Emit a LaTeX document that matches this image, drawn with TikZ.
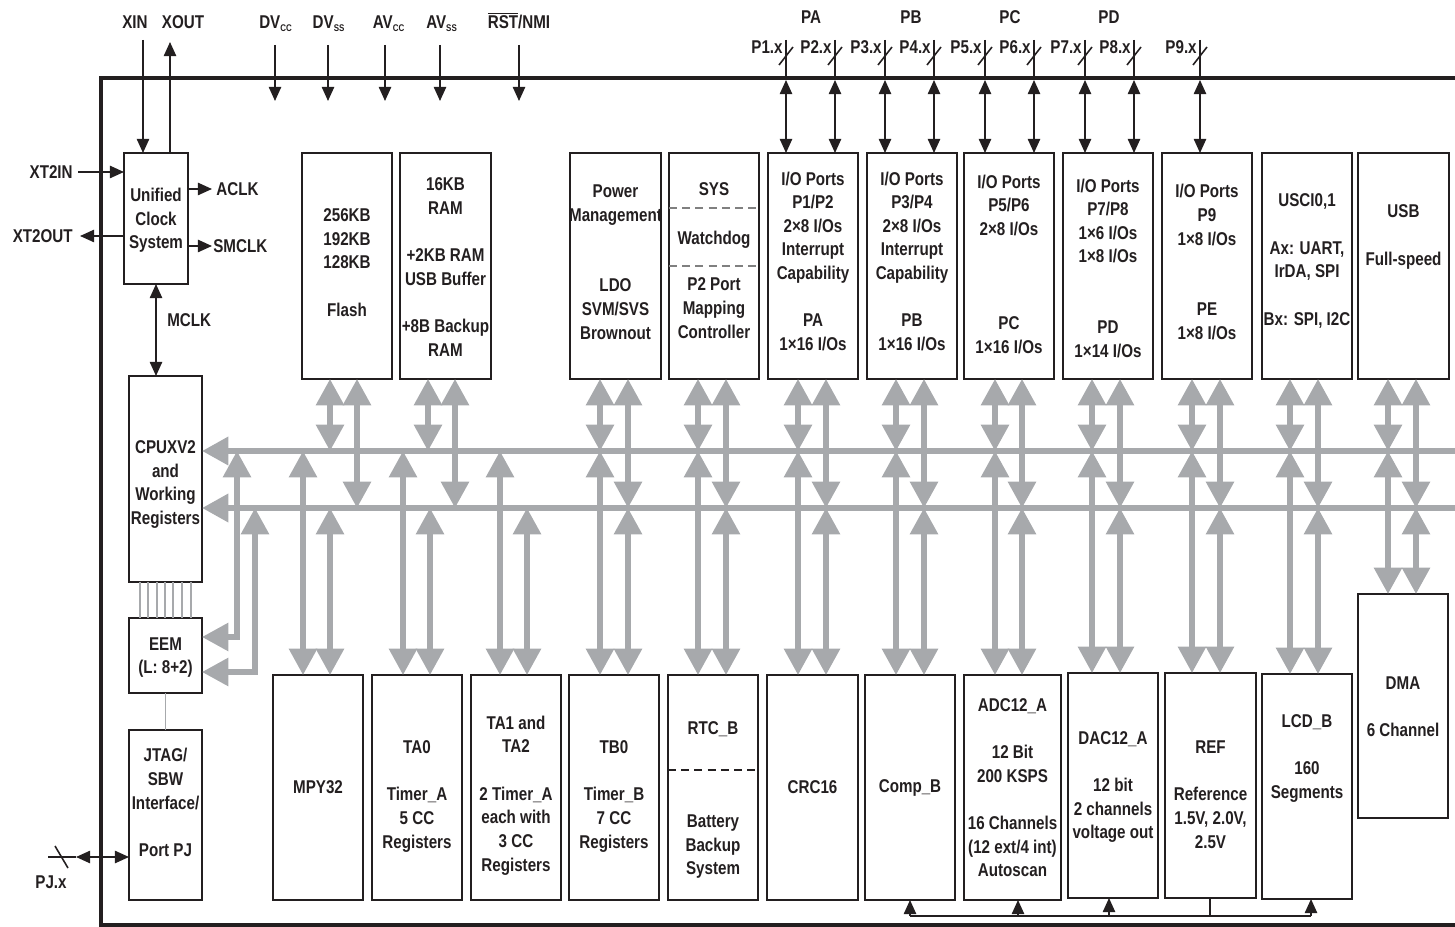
\documentclass[tikz,border=0pt]{standalone}
\usepackage{fontspec}
\setmainfont{Liberation Sans}[FakeStretch=0.82]
\usetikzlibrary{arrows.meta,calc}
\definecolor{busgray}{RGB}{167,169,172}
\definecolor{ink}{RGB}{35,31,32}
\newlength\gapL \setlength\gapL{13.4pt}
\def\PX{0.5674pt}
\newcommand\blk[5]{\node[blkbox, minimum width={(#4-#2)*\PX}, minimum height={(#5-#3)*\PX}] (#1) at ({(#2+#4)/2},{(#3+#5)/2}) {};}
\tikzset{
  BT/.tip={Triangle[length=15pt,width=15.5pt]},
  ST/.tip={Triangle[length=8pt,width=7pt]},
  blkbox/.style={draw=ink, line width=1.4pt, inner sep=0pt, outer sep=0pt, rectangle},
  txt/.style={align=center, inner sep=0pt, text depth=0pt, text=ink},
  lbl/.style={inner sep=0pt, text=ink},
  sig/.style={draw=ink, line width=0.9pt},
  bus/.style={draw=busgray, line width=3pt},
  busline/.style={draw=busgray, line width=3.4pt},
  frameln/.style={draw=ink, line width=2.3pt},
  thinln/.style={draw=busgray, line width=0.6pt},
  dashln/.style={dashed, dash pattern=on 4.5pt off 3pt, line width=0.9pt}
}
\begin{document}
\begin{tikzpicture}[x=0.5674pt, y=-0.5674pt, font=\bfseries\fontsize{10.5pt}{13.4pt}\selectfont]
\useasboundingbox (0,0) rectangle (1455,927);

% chip frame
\coordinate (frTR) at (1465,78); \coordinate (frTL) at (101,78);
\coordinate (frBL) at (101,925); \coordinate (frBR) at (1465,925);
\draw[frameln] (frTR) -- (frTL) -- (frBL) -- (frBR);

% blocks
\blk{clk}{124}{153}{188}{284}
\blk{cpu}{129}{376}{202}{582}
\blk{eem}{129}{618}{202}{693}
\blk{jtag}{129}{730}{202}{900}
\blk{flash}{302}{153}{392}{379}
\blk{ram}{400}{153}{491}{379}
\blk{pmm}{570}{153}{661}{379}
\blk{sys}{669}{153}{759}{379}
\blk{ioA}{768}{153}{858}{379}
\blk{ioB}{867}{153}{957}{379}
\blk{ioC}{964}{153}{1054}{379}
\blk{ioD}{1063}{153}{1153}{379}
\blk{ioE}{1162}{153}{1252}{379}
\blk{usci}{1262}{153}{1352}{379}
\blk{usb}{1358}{153}{1449}{379}
\blk{mpy}{273}{675}{363}{900}
\blk{ta0}{372}{675}{462}{900}
\blk{ta1}{471}{675}{561}{900}
\blk{tb0}{569}{675}{659}{900}
\blk{rtc}{668}{675}{758}{900}
\blk{crc}{767}{675}{858}{900}
\blk{comp}{865}{675}{955}{900}
\blk{adc}{964}{675}{1061}{900}
\blk{dac}{1068}{673}{1158}{898}
\blk{ref}{1165}{673}{1256}{898}
\blk{lcd}{1262}{674}{1352}{899}
\blk{dma}{1358}{594}{1448}{818}

% dashed separators
\draw[dashln, draw=gray] ($(sys.north west)+(0,55)$) -- ($(sys.north east)+(0,55)$);
\draw[dashln, draw=gray] ($(sys.north west)+(0,113)$) -- ($(sys.north east)+(0,113)$);
\draw[dashln, draw=ink] ($(rtc.north west)+(0,95)$) -- ($(rtc.north east)+(0,95)$);

% buses
\coordinate (busU) at (1465,451); \coordinate (busL) at (1465,508);
\draw[busline, BT-] (cpu.east |- busU) -- (busU);
\draw[busline, BT-] (cpu.east |- busL) -- (busL);

\foreach \b/\xa/\xb in {flash/330/357, ram/428/455, pmm/600/628, sys/698/726, ioA/798/826, ioB/896/924, ioC/995/1022, ioD/1092/1120, ioE/1192/1220, usci/1290/1318, usb/1388/1416} {
  \coordinate (ca) at (\xa,451); \coordinate (cb) at (\xb,508);
  \draw[bus, BT-BT] (ca |- \b.south) -- (ca);
  \draw[bus, BT-BT] (cb |- \b.south) -- (cb);
}
\foreach \b/\xa/\xb in {mpy/303/330, ta0/403/430, ta1/500/527, tb0/600/628, rtc/698/726, crc/798/826, comp/896/924, adc/995/1022, dac/1092/1120, ref/1192/1220, lcd/1290/1318, dma/1388/1416} {
  \coordinate (ca) at (\xa,451); \coordinate (cb) at (\xb,508);
  \draw[bus, BT-BT] (ca) -- (ca |- \b.north);
  \draw[bus, BT-BT] (cb) -- (cb |- \b.north);
}
% EEM links
\coordinate (eA) at (237,637); \coordinate (eB) at (255,672);
\draw[bus, BT-BT] (eA |- busU) -- (eA) -- (eem.east |- eA);
\draw[bus, BT-BT] (eB |- busL) -- (eB) -- (eem.east |- eB);

% CPU-EEM thin lines, EEM-JTAG
\foreach \d in {11,19,28,36,44,53,62} {
  \draw[thinln] ($(cpu.south west)+(\d,0)$) -- ($(eem.north west)+(\d,0)$);
}
\draw[thinln] (eem.south) -- (jtag.north);

% clock signals
\coordinate (xinT) at (143,40); \draw[sig,-ST] (xinT) -- (xinT |- clk.north);
\coordinate (xoutT) at (170,42); \draw[sig,-ST] (xoutT |- clk.north) -- (xoutT);
\coordinate (xt2in) at (78,172); \draw[sig,-ST] (xt2in) -- (xt2in -| clk.west);
\coordinate (xt2out) at (80,236); \draw[sig,-ST] (xt2out -| clk.west) -- (xt2out);
\coordinate (aclk) at (212,189); \draw[sig,-ST] (aclk -| clk.east) -- (aclk);
\coordinate (smclk) at (212,246); \draw[sig,-ST] (smclk -| clk.east) -- (smclk);
\draw[sig,ST-ST] (clk.south) -- (clk.south |- cpu.north);

\node[lbl] (lxin) at (135,22) {XIN};
\node[lbl] (lxout) at (183,22) {XOUT};
\node[lbl, anchor=east] (lxt2in) at (73,172) {XT2IN};
\node[lbl, anchor=east] (lxt2out) at (73,236) {XT2OUT};
\node[lbl, anchor=west] (laclk) at (216,189) {ACLK};
\node[lbl, anchor=west] (lsmclk) at (213,246) {SMCLK};
\node[lbl, anchor=west] (lmclk) at (167,320) {MCLK};

% power pins
\foreach \i/\x in {1/275,2/328,3/385,4/440,5/519} {
  \coordinate (pw\i) at (\x,45); \coordinate (pwe\i) at (\x,101);
  \draw[sig,-ST] (pw\i) -- (pwe\i);
}
\node[lbl, anchor=base] (ldvcc) at (276,29) {DV\textsubscript{\fontsize{5.5pt}{6pt}\selectfont CC}};
\node[lbl, anchor=base] (ldvss) at (329,29) {DV\textsubscript{\fontsize{5.5pt}{6pt}\selectfont SS}};
\node[lbl, anchor=base] (lavcc) at (389,29) {AV\textsubscript{\fontsize{5.5pt}{6pt}\selectfont CC}};
\node[lbl, anchor=base] (lavss) at (442,29) {AV\textsubscript{\fontsize{5.5pt}{6pt}\selectfont SS}};
\node[lbl, anchor=base] (lrst) at (519,29) {$\overline{\hbox{RST}}$/NMI};

% port pins
\foreach \i/\x/\b in {1/786/ioA,2/835/ioA,3/885/ioB,4/934/ioB,5/985/ioC,6/1034/ioC,7/1085/ioD,8/1134/ioD,9/1200/ioE} {
  \coordinate (pt\i) at (\x,40); \coordinate (pm\i) at (\x,80);
  \draw[sig] (pt\i) -- (pm\i);
  \draw[sig,ST-ST] (pm\i) -- (pm\i |- \b.north);
  \draw[sig] ($(pm\i)+(-7,-15)$) -- ($(pm\i)+(7,-33)$);
  \node[lbl, anchor=east] (pl\i) at ($(pt\i)+(-3,7)$) {P\i.x};
}
\node[lbl] (lpa) at (811,17) {PA};
\node[lbl] (lpb) at (911,17) {PB};
\node[lbl] (lpc) at (1010,17) {PC};
\node[lbl] (lpd) at (1109,17) {PD};

% PJ
\coordinate (pjx) at (48,857); \coordinate (pjm) at (76,857);
\draw[sig] (pjx) -- (pjm);
\draw[sig,ST-ST] (pjm) -- (pjm -| jtag.west);
\draw[sig] (55,846) -- (68,868);
\node[lbl] (lpj) at (51,882) {PJ.x};

% analog signal line
\coordinate (sgA) at (910,916); \coordinate (sgB) at (1018,916);
\coordinate (sgC) at (1109,916); \coordinate (sgD) at (1210,916);
\coordinate (sgE) at (1311,916);
\draw[sig] (sgA) -- (sgE);
\draw[sig,-ST] (sgA) -- (sgA |- comp.south);
\draw[sig,-ST] (sgB) -- (sgB |- adc.south);
\draw[sig,-ST] (sgC) -- (sgC |- dac.south);
\draw[sig] (sgD) -- (sgD |- ref.south);
\draw[sig,-ST] (sgE) -- (sgE |- lcd.south);

% block texts
\node[txt] (clkT) at (156,218.5) {Unified\\Clock\\System};
\node[txt] (cpuT) at (165.5,482.5) {CPUXV2\\and\\Working\\Registers};
\node[txt] (eemT) at (165.5,655.5) {EEM\\(L: 8+2)};
\node[txt] (jtagT) at (165.5,802.5) {JTAG/\\SBW\\Interface/\\[\gapL]Port PJ};
\node[txt] (flashT) at (347,262.5) {256KB\\192KB\\128KB\\[\gapL]Flash};
\node[txt] (ramT) at (445.5,267) {16KB\\RAM\\[\gapL]+2KB RAM\\USB Buffer\\[\gapL]+8B Backup\\RAM};
\node[txt] (pmmT) at (615.5,262) {Power\\Management\\[2\gapL]LDO\\SVM/SVS\\Brownout};
\node[txt] (sysA) at (714,189) {SYS};
\node[txt] (sysB) at (714,238) {Watchdog};
\node[txt] (sysC) at (714,308) {P2 Port\\Mapping\\Controller};
\node[txt] (ioAT) at (813,261) {I/O Ports\\P1/P2\\2×8 I/Os\\Interrupt\\Capability\\[\gapL]PA\\1×16 I/Os};
\node[txt] (ioBT) at (912,261) {I/O Ports\\P3/P4\\2×8 I/Os\\Interrupt\\Capability\\[\gapL]PB\\1×16 I/Os};
\node[txt] (ioCT) at (1009,264) {I/O Ports\\P5/P6\\2×8 I/Os\\[3\gapL]PC\\1×16 I/Os};
\node[txt] (ioDT) at (1108,268) {I/O Ports\\P7/P8\\1×6 I/Os\\1×8 I/Os\\[2\gapL]PD\\1×14 I/Os};
\node[txt] (ioET) at (1207,262) {I/O Ports\\P9\\1×8 I/Os\\[2\gapL]PE\\1×8 I/Os};
\node[txt] (usciT) at (1307,259.5) {USCI0,1\\[\gapL]Ax: UART,\\IrDA, SPI\\[\gapL]Bx: SPI, I2C};
\node[txt] (usbT) at (1403.5,235) {USB\\[\gapL]Full-speed};
\node[txt] (mpyT) at (318,787) {MPY32};
\node[txt] (ta0T) at (417,794.5) {TA0\\[\gapL]Timer\_A\\5 CC\\Registers};
\node[txt] (ta1T) at (516,793.5) {TA1 and\\TA2\\[\gapL]2 Timer\_A\\each with\\3 CC\\Registers};
\node[txt] (tb0T) at (614,794.5) {TB0\\[\gapL]Timer\_B\\7 CC\\Registers};
\node[txt] (rtcA) at (713,728) {RTC\_B};
\node[txt] (rtcB) at (713,845) {Battery\\Backup\\System};
\node[txt] (crcT) at (812.5,787) {CRC16};
\node[txt] (compT) at (910,786) {Comp\_B};
\node[txt] (adcT) at (1012.5,787.5) {ADC12\_A\\[\gapL]12 Bit\\200 KSPS\\[\gapL]16 Channels\\(12 ext/4 int)\\Autoscan};
\node[txt] (dacT) at (1113,785) {DAC12\_A\\[\gapL]12 bit\\2 channels\\voltage out};
\node[txt] (refT) at (1210.5,794.5) {REF\\[\gapL]Reference\\1.5V, 2.0V,\\2.5V};
\node[txt] (lcdT) at (1307,756.5) {LCD\_B\\[\gapL]160\\Segments};
\node[txt] (dmaT) at (1403,706.5) {DMA\\[\gapL]6 Channel};
\end{tikzpicture}
\end{document}
